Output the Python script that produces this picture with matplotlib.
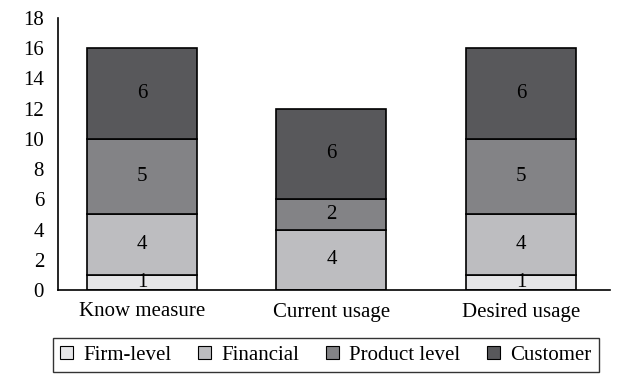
import numpy as np
import matplotlib.pyplot as plt

plt.rcParams['font.family'] = ['Liberation Serif', 'DejaVu Serif']

categories = ["Know measure", "Current usage", "Desired usage"]
series = ["Firm-level", "Financial", "Product level", "Customer"]
firm_level = [1, 0, 1]
financial = [4, 4, 4]
product_level = [5, 2, 5]
customer = [6, 6, 6]
colors = ["#e6e6e8", "#bdbdc0", "#838386", "#58585b"]

fig = plt.figure(figsize=(6.18, 3.75), dpi=100)
ax = fig.add_axes([58 / 618, 1 - 290 / 375, 552 / 618, 272 / 375])

x = np.arange(len(categories))
bottom = np.zeros(len(categories))
for name, vals, col in zip(series, [firm_level, financial, product_level, customer], colors):
    vals = np.array(vals, dtype=float)
    ax.bar(x, vals, 0.58, bottom=bottom, color=col, edgecolor="black",
           linewidth=1.2, label=name)
    for xi, b, v in zip(x, bottom, vals):
        if v > 0:
            ax.text(xi, b + v / 2, f"{int(v)}", ha="center", va="center", fontsize=15)
    bottom += vals

ax.set_xlim(-0.443, 2.47)
ax.set_ylim(0, 18)
ax.set_yticks(range(0, 19, 2))
ax.set_xticks(x)
ax.set_xticklabels(categories)
ax.tick_params(axis="both", length=0, labelsize=15)
ax.tick_params(axis="x", pad=9)
ax.tick_params(axis="y", pad=10)
for s in ["top", "right"]:
    ax.spines[s].set_visible(False)
for s in ["left", "bottom"]:
    ax.spines[s].set_linewidth(1.2)

leg = fig.legend(loc="center", bbox_to_anchor=(326 / 618, 1 - 355 / 375), ncol=4,
                 frameon=True, fancybox=False, edgecolor="black", fontsize=15,
                 handlelength=0.6, handleheight=0.6, handletextpad=0.5,
                 columnspacing=1.3, borderpad=0.35)
leg.get_frame().set_linewidth(1.0)
for h in leg.legend_handles:
    h.set_linewidth(0.8)

fig.savefig("out.png", dpi=100)
